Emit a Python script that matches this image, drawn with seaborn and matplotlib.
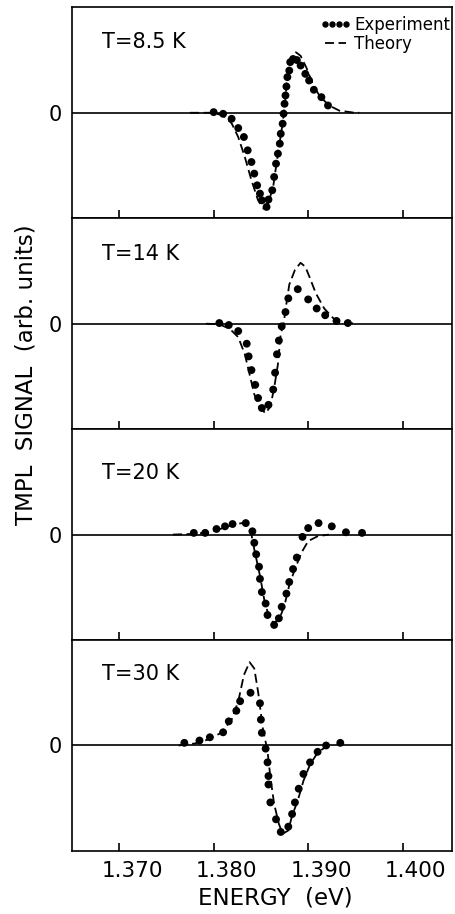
import matplotlib
matplotlib.use("Agg")
import matplotlib.pyplot as plt
from matplotlib.lines import Line2D
from matplotlib.transforms import ScaledTranslation
import pandas as pd
import seaborn as sns

# panel labels
temps = ["T=8.5 K", "T=14 K", "T=20 K", "T=30 K"]

# T = 8.5 K
exp_e_1 = [1.3800, 1.3810, 1.3819, 1.3826, 1.3832, 1.3836, 1.3840, 1.3843, 1.3846, 1.3849,
           1.3851, 1.3856, 1.3858, 1.3862, 1.3864, 1.3866, 1.3868, 1.3870, 1.3871, 1.3873,
           1.3874, 1.3875, 1.3876, 1.3877, 1.3878, 1.3880, 1.3881, 1.3884, 1.3888, 1.3892,
           1.3897, 1.3901, 1.3906, 1.3914, 1.3921]
exp_s_1 = [0.006, -0.010, -0.057, -0.145, -0.230, -0.356, -0.467, -0.577, -0.688, -0.767,
           -0.830, -0.893, -0.823, -0.735, -0.609, -0.483, -0.388, -0.293, -0.199, -0.104,
           -0.009, 0.085, 0.164, 0.249, 0.338, 0.400, 0.480, 0.510, 0.500, 0.448,
           0.369, 0.306, 0.218, 0.148, 0.069]
th_e_1 = [1.3775, 1.3799, 1.3810, 1.3819, 1.3826, 1.3833, 1.3840, 1.3847, 1.3853, 1.3857,
          1.3863, 1.3868, 1.3873, 1.3875, 1.3878, 1.3882, 1.3887, 1.3892, 1.3898, 1.3905,
          1.3912, 1.3922, 1.3933, 1.3947, 1.3954]
th_s_1 = [0.0, 0.0, -0.025, -0.10, -0.23, -0.42, -0.64, -0.83, -0.91, -0.88,
          -0.70, -0.39, -0.10, 0.05, 0.34, 0.50, 0.574, 0.54, 0.43, 0.27,
          0.16, 0.07, 0.02, 0.003, 0.0]

# T = 14 K
exp_e_2 = [1.3806, 1.3816, 1.3826, 1.3835, 1.3837, 1.3840, 1.3844, 1.3847, 1.3851, 1.3858,
           1.3863, 1.3865, 1.3867, 1.3869, 1.3872, 1.3876, 1.3879, 1.3889, 1.3900, 1.3909,
           1.3918, 1.3930, 1.3942]
exp_s_2 = [0.006, -0.013, -0.070, -0.190, -0.310, -0.440, -0.580, -0.705, -0.800, -0.770,
           -0.625, -0.465, -0.290, -0.160, -0.026, 0.110, 0.240, 0.327, 0.230, 0.144,
           0.080, 0.026, 0.006]
th_e_2 = [1.3792, 1.3806, 1.3817, 1.3826, 1.3833, 1.3838, 1.3843, 1.3849, 1.3855, 1.3860,
          1.3864, 1.3868, 1.3871, 1.3874, 1.3877, 1.3880, 1.3886, 1.3892, 1.3897, 1.3902,
          1.3908, 1.3917, 1.3927, 1.3940, 1.3950]
th_s_2 = [0.0, -0.006, -0.048, -0.128, -0.29, -0.48, -0.67, -0.80, -0.85, -0.785,
          -0.61, -0.385, -0.096, 0.0, 0.19, 0.37, 0.51, 0.577, 0.54, 0.43,
          0.29, 0.144, 0.048, 0.01, 0.0]

# T = 20 K
exp_e_3 = [1.3779, 1.3791, 1.3803, 1.3812, 1.3820, 1.3834, 1.3841, 1.3843, 1.3845, 1.3848,
           1.3849, 1.3851, 1.3855, 1.3857, 1.3864, 1.3869, 1.3872, 1.3877, 1.3880, 1.3884,
           1.3888, 1.3894, 1.3900, 1.3911, 1.3925, 1.3940, 1.3957]
exp_s_3 = [0.016, 0.016, 0.053, 0.078, 0.100, 0.109, 0.031, -0.078, -0.187, -0.305,
           -0.420, -0.545, -0.654, -0.763, -0.857, -0.794, -0.685, -0.560, -0.450, -0.327,
           -0.218, -0.022, 0.062, 0.109, 0.078, 0.022, 0.016]
th_e_3 = [1.3757, 1.3778, 1.3796, 1.3810, 1.3822, 1.3831, 1.3836, 1.3840, 1.3843, 1.3849,
          1.3854, 1.3859, 1.3864, 1.3870, 1.3875, 1.3880, 1.3886, 1.3893, 1.3900, 1.3910,
          1.3922]
th_s_3 = [0.0, 0.006, 0.022, 0.062, 0.10, 0.109, 0.084, 0.0, -0.14, -0.39,
          -0.64, -0.79, -0.84, -0.79, -0.67, -0.48, -0.327, -0.17, -0.062, -0.016,
          0.0]

# T = 30 K
exp_e_4 = [1.3769, 1.3785, 1.3796, 1.3810, 1.3816, 1.3824, 1.3828, 1.3839, 1.3849, 1.3850,
           1.3851, 1.3855, 1.3857, 1.3858, 1.3858, 1.3860, 1.3866, 1.3871, 1.3879, 1.3883,
           1.3886, 1.3890, 1.3895, 1.3902, 1.3910, 1.3919, 1.3934]
exp_s_4 = [0.025, 0.047, 0.078, 0.125, 0.229, 0.329, 0.420, 0.500, 0.400, 0.245,
           0.120, -0.030, -0.160, -0.290, -0.370, -0.540, -0.700, -0.820, -0.770, -0.650,
           -0.540, -0.410, -0.270, -0.160, -0.060, 0.0, 0.025]
th_e_4 = [1.3763, 1.3780, 1.3794, 1.3808, 1.3819, 1.3826, 1.3832, 1.3838, 1.3843, 1.3847,
          1.3852, 1.3857, 1.3860, 1.3864, 1.3869, 1.3873, 1.3879, 1.3883, 1.3889, 1.3895,
          1.3902, 1.3910, 1.3918, 1.3927]
th_s_4 = [0.0, 0.019, 0.056, 0.12, 0.245, 0.417, 0.668, 0.79, 0.73, 0.51,
          0.166, -0.053, -0.30, -0.555, -0.743, -0.837, -0.806, -0.665, -0.523, -0.335,
          -0.18, -0.069, -0.016, 0.0]

exp_e = [exp_e_1, exp_e_2, exp_e_3, exp_e_4]
exp_s = [exp_s_1, exp_s_2, exp_s_3, exp_s_4]
th_e = [th_e_1, th_e_2, th_e_3, th_e_4]
th_s = [th_s_1, th_s_2, th_s_3, th_s_4]

x_ticks = [1.370, 1.380, 1.390, 1.400]
x_tick_labels = ["1.370", "1.380", "1.390", "1.400"]

sns.set_theme(style="ticks")
plt.rcParams["font.family"] = ["DejaVu Sans"]
plt.rcParams.update({"text.color": "black", "axes.labelcolor": "black",
                     "xtick.color": "black", "ytick.color": "black"})

fig, axes = plt.subplots(4, 1, figsize=(4.55, 9.14), dpi=100, sharex=True)
fig.subplots_adjust(left=0.158, right=0.993, top=0.992, bottom=0.069, hspace=0)

label_y = [0.835, 0.83, 0.79, 0.84]
dash = (0, (5, 2.5))

for i, ax in enumerate(axes):
    exp_df = pd.DataFrame({"E": exp_e[i], "S": exp_s[i]})
    th_df = pd.DataFrame({"E": th_e[i], "S": th_s[i]})

    ax.axhline(0, color="black", lw=1.2, zorder=1)
    sns.lineplot(data=th_df, x="E", y="S", ax=ax, color="black", lw=1.3,
                 linestyle=dash, sort=False, zorder=2)
    sns.scatterplot(data=exp_df, x="E", y="S", ax=ax, color="black", s=32,
                    edgecolor="none", zorder=3)

    ax.set_xlim(1.365, 1.4052)
    ax.set_ylim(-1, 1)
    ax.set_yticks([0])
    ax.set_yticklabels(["0"], fontsize=15)
    ax.tick_params(axis="y", length=0, pad=7)
    ax.set_xticks(x_ticks)
    ax.tick_params(axis="x", direction="in", length=6, width=1.2, top=False,
                   labelsize=15.5, pad=7)
    ax.set_xlabel("")
    ax.set_ylabel("")
    for sp in ax.spines.values():
        sp.set_color("black")
        sp.set_linewidth(1.2)

    ax.text(0.08, label_y[i], temps[i], transform=ax.transAxes, fontsize=15,
            ha="left", va="center")

# legend in the top panel only
handles = [Line2D([], [], marker="o", ls="none", color="black", markersize=3.6),
           Line2D([], [], color="black", lw=1.3, linestyle=dash)]
axes[0].legend(handles, ["Experiment", "Theory"], numpoints=4, loc="upper right",
               bbox_to_anchor=(0.995, 0.96), borderaxespad=0, borderpad=0,
               frameon=False, fontsize=12, handlelength=1.9, handletextpad=0.15,
               labelspacing=0.05)

axes[-1].set_xticklabels(x_tick_labels)
shift = ScaledTranslation(13 / 100, 0, fig.dpi_scale_trans)
for lbl in axes[-1].get_xticklabels():
    lbl.set_transform(lbl.get_transform() + shift)
axes[-1].set_xlabel("ENERGY  (eV)", fontsize=16.5)
axes[-1].xaxis.set_label_coords(0.535, -0.17)
fig.text(0.057, 1 - 375 / 914, "TMPL  SIGNAL  (arb. units)", rotation=90,
         fontsize=16.5, ha="center", va="center")

fig.savefig("out.png", dpi=100)
